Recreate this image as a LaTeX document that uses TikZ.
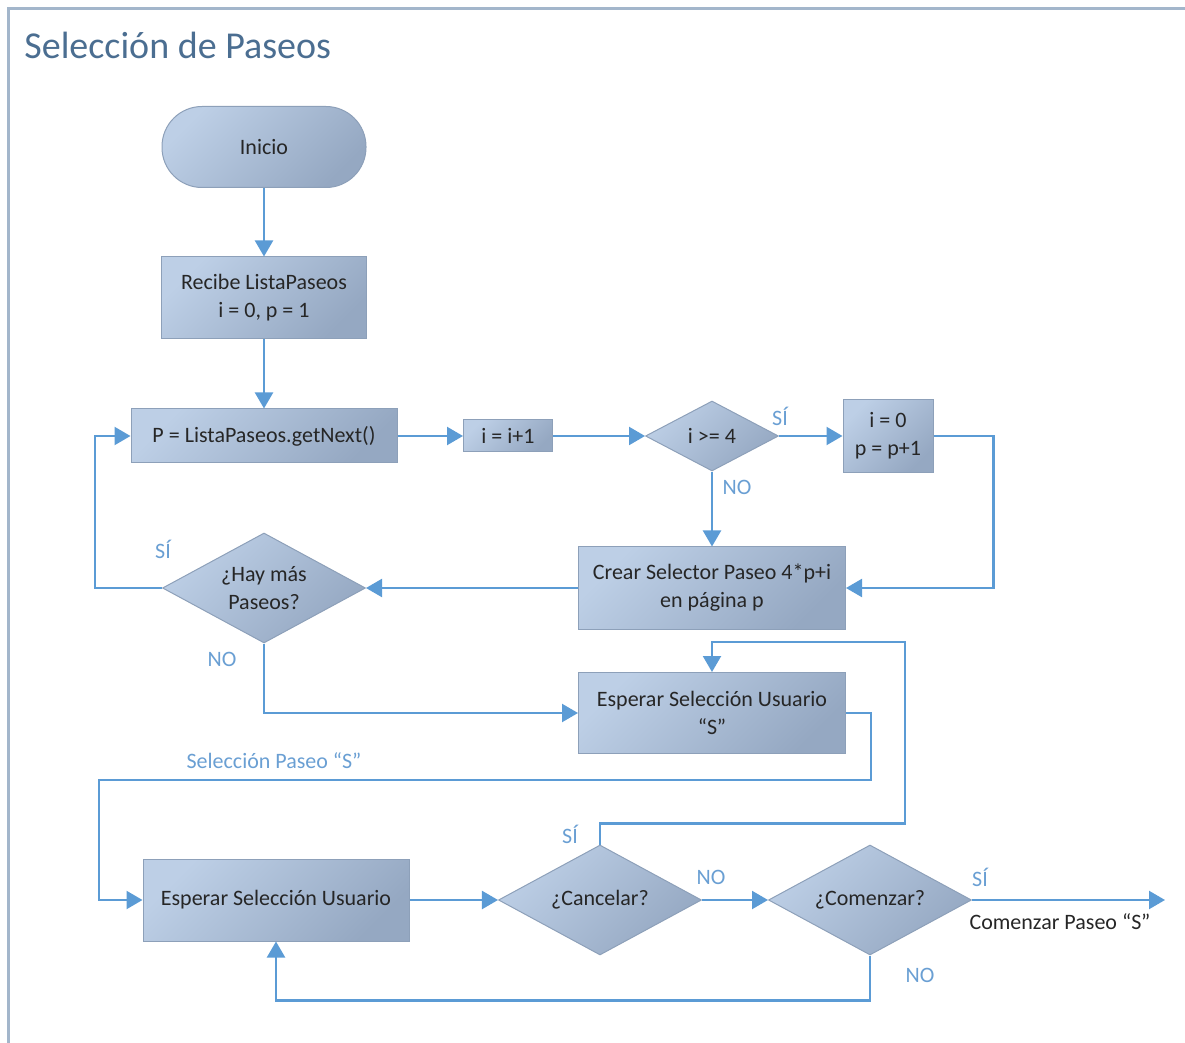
\documentclass[tikz,border=0pt]{standalone}
\usepackage{fontspec}
\setmainfont{Carlito}
\usepackage{xcolor}
\usetikzlibrary{shapes.geometric, arrows.meta}

\definecolor{azulLinea}{HTML}{5B9BD5}
\definecolor{azulClaro}{HTML}{BDCFE6}
\definecolor{azulOscuro}{HTML}{95A8C2}
\definecolor{azulBorde}{HTML}{8DA0B9}
\definecolor{azulTitulo}{HTML}{4B6E91}
\definecolor{azulMarco}{HTML}{A3B6CB}
\definecolor{azulEtiqueta}{HTML}{6A9FD3}

\begin{document}
\begin{tikzpicture}[
		    x=0.5pt, y=-0.5pt,
		    every node/.style={font=\fontsize{11}{14}\selectfont, text=black!85, inner sep=0pt, align=center},
		    flecha/.style={draw=azulLinea, line width=1.1pt, -{Triangle[width=9pt,length=8pt]}}
		]
		\tikzset{
		    forma/.style={draw=azulBorde, line width=0.5pt, top color=azulClaro, bottom color=azulOscuro, shading angle=45},
		    caja/.style={forma, rectangle},
		    inicioFin/.style={forma, rectangle, rounded corners=20pt},
		    decision/.style={forma, diamond, aspect=1.85, minimum width=101.5pt, minimum height=55pt},
		    etiqueta/.style={text=azulEtiqueta, inner sep=2pt}
		}
		\useasboundingbox (0,0) rectangle (1185,1043);
		\draw[azulMarco, line width=1.5pt] (8,1043) -- (8,9) -- (1185,9);
		\node[anchor=west, font=\fontsize{19}{22}\selectfont, text=azulTitulo] (titulo) at (24,45) {Selección de Paseos};
		% nodos
		\node[inicioFin, minimum width=102pt, minimum height=40.5pt] (inicio) at (264,147) {Inicio};
		\node[caja, minimum width=102.5pt, minimum height=41pt] (recibe) at (264,298) {Recibe ListaPaseos\\i = 0, p = 1};
		\node[caja, minimum width=133pt, minimum height=27pt] (siguiente) at (264,436) {P = ListaPaseos.getNext()};
		\node[caja, minimum width=44.5pt, minimum height=16pt] (incremento) at (508,436) {i = i+1};
		\node[decision, minimum width=66.5pt, minimum height=35pt] (limite) at (712,436) {i >= 4};
		\node[caja, minimum width=45pt, minimum height=36.5pt] (reinicio) at (888,436) {i = 0\\p = p+1};
		\node[caja, minimum width=133.5pt, minimum height=41pt] (crear) at (712,588) {Crear Selector Paseo 4*p+i\\en página p};
		\node[decision] (hayMas) at (264,588) {¿Hay más\\Paseos?};
		\node[caja, minimum width=133.5pt, minimum height=40.5pt] (esperarS) at (712,713) {Esperar Selección Usuario\\“S”};
		\node[caja, minimum width=133pt, minimum height=41pt] (esperar) at (276,900) {Esperar Selección Usuario};
		\node[decision] (cancelar) at (600,900) {¿Cancelar?};
		\node[decision] (comenzar) at (870,900) {¿Comenzar?};
		\coordinate (fin) at (1165,900);
		\coordinate (giro) at (99,780);
		\coordinate (retorno) at (905,642);
		% conectores
		\draw[flecha] (inicio) -- (recibe);
		\draw[flecha] (recibe) -- (siguiente);
		\draw[flecha] (siguiente) -- (incremento);
		\draw[flecha] (incremento) -- (limite);
		\draw[flecha] (limite) -- (reinicio);
		\draw[flecha] (limite) -- (crear);
		\draw[flecha] (reinicio.east) -- ++(60,0) |- (crear.east);
		\draw[flecha] (crear) -- (hayMas);
		\draw[flecha] (hayMas.west) -- ++(-67,0) |- (siguiente.west);
		\draw[flecha] (hayMas.south) |- (esperarS.west);
		\draw[flecha] (esperarS.east) -- ++(25,0) |- (giro) |- (esperar.west);
		\draw[flecha] (esperar) -- (cancelar);
		\draw[flecha] (cancelar.north) -- ++(0,-21) -| (retorno) -| (esperarS.north);
		\draw[flecha] (cancelar) -- (comenzar);
		\draw[flecha] (comenzar) -- (fin);
		\draw[flecha] (comenzar.south) -- ++(0,45) -| (esperar.south);
		% etiquetas
		\node[etiqueta] at (780,416) {SÍ};
		\node[etiqueta] at (737,487) {NO};
		\node[etiqueta] at (163,549) {SÍ};
		\node[etiqueta] at (222,659) {NO};
		\node[etiqueta] at (274,761) {Selección Paseo “S”};
		\node[etiqueta] at (570,834) {SÍ};
		\node[etiqueta] at (711,877) {NO};
		\node[etiqueta] at (980,877) {SÍ};
		\node[etiqueta] at (920,975) {NO};
		\node (comienzo) at (1060,922) {Comenzar Paseo “S”};
		\end{tikzpicture}
\end{document}
